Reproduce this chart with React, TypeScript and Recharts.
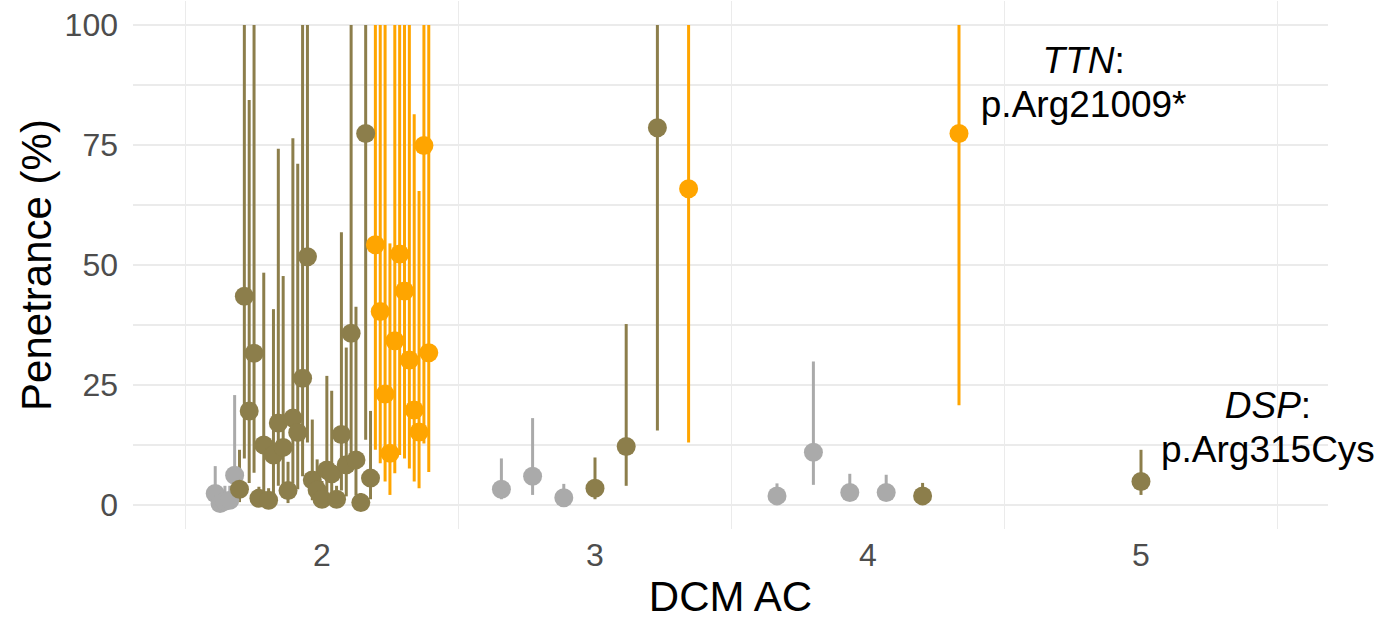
import React from 'react';
import { CartesianGrid, ErrorBar, Scatter, ScatterChart, XAxis, YAxis } from 'recharts';

const FONT = '"Liberation Sans", Arial, Helvetica, sans-serif';

// colour groups used by the points
const COLORS: Record<string, string> = {
  grey: '#AAAAAA',
  olive: '#8C7E4B',
  orange: '#FFA500',
};

// DCM AC = 2 (dodged cluster)
const ac2Class = [
  'grey', 'grey', 'grey', 'grey', 'grey',
  'olive', 'olive', 'olive', 'olive', 'olive', 'olive', 'olive', 'olive', 'olive', 'olive',
  'olive', 'olive', 'olive', 'olive', 'olive', 'olive', 'olive', 'olive', 'olive', 'olive',
  'olive', 'olive', 'olive', 'olive', 'olive', 'olive', 'olive', 'olive',
  'orange', 'orange', 'orange', 'orange', 'orange', 'orange',
  'orange', 'orange', 'orange', 'orange', 'orange', 'orange',
];
const ac2Pen = [
  2.4, 0.3, 0.8, 1.0, 6.2,
  3.3, 43.5, 19.6, 31.6, 1.4, 12.5, 1.0, 10.4, 17.1, 12.0,
  3.0, 18.1, 15.1, 26.4, 51.7, 5.2, 3.1, 1.2, 7.3, 6.5,
  1.2, 14.7, 8.4, 35.8, 9.4, 0.5, 77.4, 5.6,
  54.2, 40.3, 23.1, 10.8, 34.2, 52.3,
  44.6, 30.2, 19.8, 15.2, 74.9, 31.7,
];
const ac2Low = [
  0.3, 0, 0, 0, 1.0,
  0.6, 9.7, 4.6, 6.7, 0, 2.6, 0, 2.0, 4.0, 2.8,
  0.4, 4.5, 3.3, 6.0, 13.0, 1.0, 0.5, 0, 1.5, 1.3,
  0, 3.0, 1.8, 8.0, 2.0, 0, 13.6, 1.2,
  11.5, 8.7, 4.9, 2.1, 6.6, 10.4,
  9.7, 7.6, 4.9, 3.5, 12.8, 6.9,
];
const ac2High = [
  8.1, 3.0, 4.0, 4.0, 22.9,
  11.5, 100, 84.4, 100, 3.8, 48.4, 3.5, 40.8, 74.2, 47.7,
  9.0, 76.4, 71.1, 100, 100, 17.8, 9.5, 5.0, 26.9, 23.8,
  4.0, 56.8, 32.8, 100, 41.3, 2.5, 100, 19.6,
  100, 100, 100, 54.5, 100, 100,
  100, 100, 81.4, 65.4, 100, 100,
];

// DCM AC = 3
const ac3Class = ['grey', 'grey', 'grey', 'olive', 'olive', 'olive', 'orange'];
const ac3Pen = [3.3, 6.0, 1.5, 3.5, 12.2, 78.6, 65.9];
const ac3Low = [1.2, 2.1, 0.3, 1.2, 4.0, 15.5, 13.0];
const ac3High = [9.7, 18.1, 4.4, 9.9, 37.7, 100, 100];

// DCM AC = 4
const ac4Class = ['grey', 'grey', 'grey', 'grey', 'olive', 'orange'];
const ac4Pen = [1.9, 11.0, 2.6, 2.6, 1.9, 77.4];
const ac4Low = [0.5, 4.2, 1.0, 1.0, 0.5, 20.8];
const ac4High = [4.5, 29.9, 6.5, 6.3, 4.6, 100];

// DCM AC = 5
const ac5Class = ['olive'];
const ac5Pen = [4.9];
const ac5Low = [2.1];
const ac5High = [11.5];

// labelled variants
const annoX = [4.79, 5.465];
const annoY = [87.8, 15.8];
const annoGene = ['TTN', 'DSP'];
const annoVariant = ['p.Arg21009*', 'p.Arg315Cys'];

const xTicks = [2, 3, 4, 5];
const yTicks = [0, 25, 50, 75, 100];
const hGrid = [0, 12.5, 25, 37.5, 50, 62.5, 75, 87.5, 100];
const vGrid = [1.5, 2.5, 3.5, 4.5, 5.5];

const DODGE = 0.8;

type Row = { x: number; y: number; err: [number, number]; cls: string };

// position_dodge-like spread of the points of one AC value
const dodge = (ac: number, cls: string[], pen: number[], low: number[], high: number[]): Row[] => {
  const n = pen.length;
  return pen.map((p, i) => ({
    x: ac + (i - (n - 1) / 2) * (DODGE / n),
    y: p,
    err: [p - low[i], high[i] - p],
    cls: cls[i],
  }));
};

const allRows: Row[] = [
  ...dodge(2, ac2Class, ac2Pen, ac2Low, ac2High),
  ...dodge(3, ac3Class, ac3Pen, ac3Low, ac3High),
  ...dodge(4, ac4Class, ac4Pen, ac4Low, ac4High),
  ...dodge(5, ac5Class, ac5Pen, ac5Low, ac5High),
];

const groups = ['grey', 'olive', 'orange'];
const byGroup = (g: string) => allRows.filter(r => r.cls === g);

const annoRows = annoX.map((x, i) => ({ x, y: annoY[i], gene: annoGene[i], variant: annoVariant[i] }));

const NoShape = () => <g />;

const dotShape = (color: string) => (p: any) => (
  <circle cx={p.cx} cy={p.cy} r={9.5} fill={color} />
);

const AnnoShape = (p: any) => (
  <text textAnchor='middle' fontSize={37} fill='#000000' fontFamily={FONT}>
    <tspan x={p.cx} y={p.cy - 11}>
      <tspan fontStyle='italic'>{p.payload.gene}</tspan>:
    </tspan>
    <tspan x={p.cx} y={p.cy + 33}>{p.payload.variant}</tspan>
  </text>
);

const YTitle = () => (
  <text
    x={51}
    y={265}
    transform='rotate(-90, 51, 265)'
    textAnchor='middle'
    fontSize={42}
    fill='#000000'
    fontFamily={FONT}
  >
    Penetrance (%)
  </text>
);

export default function App() {
  return (
    <div style={{ width: 1378, height: 622, background: '#FFFFFF' }}>
      <style>{'body { margin: 0; }'}</style>
      <ScatterChart width={1378} height={622} margin={{ top: 1, right: 50, bottom: 0, left: 0 }}>
        <CartesianGrid
          horizontal={true}
          vertical={false}
          horizontalValues={hGrid}
          stroke='#EBEBEB'
          strokeWidth={1.8}
        />
        <CartesianGrid
          horizontal={false}
          vertical={true}
          verticalValues={vGrid}
          stroke='#EBEBEB'
          strokeWidth={1}
        />
        <XAxis
          type='number'
          dataKey='x'
          domain={[1.3077, 5.685]}
          ticks={xTicks}
          height={93}
          axisLine={false}
          tickLine={false}
          tickSize={0}
          tickMargin={14}
          tick={{ fill: '#4D4D4D', fontSize: 32, fontFamily: FONT }}
          label={{ value: 'DCM AC', position: 'insideBottom', offset: 11, fontSize: 42, fill: '#000000', fontFamily: FONT }}
        />
        <YAxis
          type='number'
          dataKey='y'
          domain={[-5, 105]}
          ticks={yTicks}
          width={133}
          axisLine={false}
          tickLine={false}
          tickSize={0}
          tickMargin={15}
          tick={{ fill: '#4D4D4D', fontSize: 32, fontFamily: FONT }}
          label={<YTitle />}
        />

        {/* error bars first, so all points sit on top */}
        {groups.map(g => (
          <Scatter key={'eb-' + g} data={byGroup(g)} shape={NoShape} isAnimationActive={false}>
            <ErrorBar dataKey='err' direction='y' width={0} stroke={COLORS[g]} strokeWidth={3} isAnimationActive={false} />
          </Scatter>
        ))}
        {groups.map(g => (
          <Scatter key={'pt-' + g} data={byGroup(g)} shape={dotShape(COLORS[g])} isAnimationActive={false} />
        ))}

        <Scatter data={annoRows} shape={AnnoShape} isAnimationActive={false} />
      </ScatterChart>
    </div>
  );
}
